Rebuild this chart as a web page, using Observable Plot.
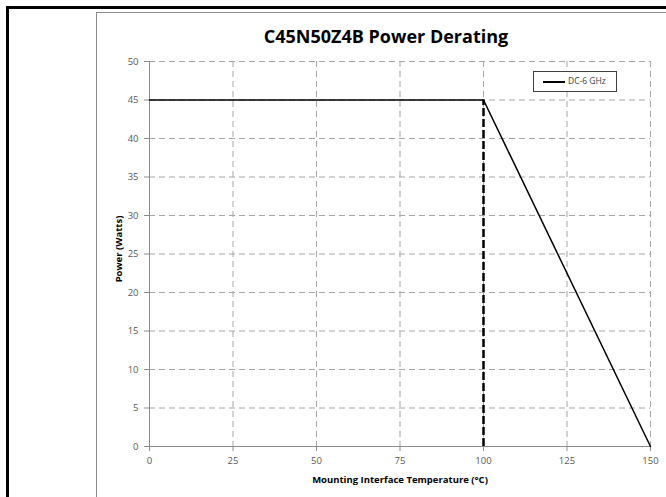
<!DOCTYPE html>
<html>
<head>
<meta charset="utf-8">
<script src="https://cdn.jsdelivr.net/npm/d3@7"></script>
<script src="https://cdn.jsdelivr.net/npm/@observablehq/plot@0.6"></script>
<style>
  html, body { margin: 0; padding: 0; background: #fff; }
  #wrap { position: relative; width: 666px; height: 497px; overflow: hidden; font-family: "Open Sans", "Liberation Sans", sans-serif; }
  #wrap svg { position: absolute; left: 0; top: 0; }
  .outer-top { position: absolute; left: 6px; top: 6px; width: 700px; height: 3px; background: #000; }
  .outer-left { position: absolute; left: 6px; top: 6px; width: 3px; height: 520px; background: #000; }
  .frame-top { position: absolute; left: 96px; top: 12px; width: 700px; height: 1px; background: #8a8a8a; }
  .frame-left { position: absolute; left: 96px; top: 12px; width: 1px; height: 520px; background: #8a8a8a; }
  #title { position: absolute; left: 186px; width: 400px; top: 24px; line-height: 25px; text-align: center; font-weight: bold; font-size: 18px; color: #000; }
  #legend { position: absolute; left: 533px; top: 71px; width: 84px; height: 21px; border: 1px solid #404040; background: #fff; box-sizing: border-box; font-size: 8.5px; color: #404040; }
  #legend .ln { position: absolute; left: 9px; top: 9px; width: 22px; height: 1.5px; background: #000; }
  #legend .tx { position: absolute; left: 34px; top: 3px; white-space: nowrap; }
</style>
</head>
<body>
<div id="wrap">
  <div class="outer-top"></div><div class="outer-left"></div>
  <div class="frame-top"></div><div class="frame-left"></div>
  <div id="title"></div>
  <div id="legend"><div class="ln"></div><div class="tx"></div></div>
</div>
<script>
const titleText = "C45N50Z4B Power Derating";
const seriesName = "DC-6 GHz";
const xLabel = "Mounting Interface Temperature (°C)";
const yLabel = "Power (Watts)";
const temperature = [0, 100, 150];
const power = [45, 45, 0];
const markerTemp = [100];
const markerPower = [45];
const xTicks = [0, 25, 50, 75, 100, 125, 150];
const yTicks = [0, 5, 10, 15, 20, 25, 30, 35, 40, 45, 50];

const data = temperature.map((t, i) => ({t, p: power[i]}));
const marker = markerTemp.map((t, i) => ({t, p: markerPower[i]}));

document.getElementById("title").textContent = titleText;
document.querySelector("#legend .tx").textContent = seriesName;

const gridColor = "#a6a6a6";
const chart = Plot.plot({
  width: 666,
  height: 497,
  marginLeft: 149,
  marginRight: 16,
  marginTop: 61,
  marginBottom: 51,
  style: { fontFamily: "Open Sans, Liberation Sans, sans-serif", fontSize: "9.5px", color: "#595959", background: "transparent", overflow: "visible" },
  x: { domain: [0, 150], ticks: xTicks },
  y: { domain: [0, 50], ticks: yTicks },
  marks: [
    Plot.gridX(xTicks.filter(d => d > 0), { stroke: gridColor, strokeOpacity: 1, strokeWidth: 1, strokeDasharray: "6,4" }),
    Plot.gridY(yTicks.filter(d => d > 0), { stroke: gridColor, strokeOpacity: 1, strokeWidth: 1, strokeDasharray: "6,4" }),
    Plot.ruleX([0], { stroke: "#8c8c8c" }),
    Plot.ruleY([0], { stroke: "#8c8c8c" }),
    Plot.axisX({ ticks: xTicks, tickSize: 5, tickPadding: 6, stroke: "#8c8c8c", label: null, fill: "#595959" }),
    Plot.axisY({ ticks: yTicks, tickSize: 5, tickPadding: 6, stroke: "#8c8c8c", label: null, fill: "#595959" }),
    Plot.text([xLabel], { frameAnchor: "bottom", dy: 36, fontWeight: "bold", fontSize: 9.5, fill: "#000" }),
    Plot.text([yLabel], { frameAnchor: "left", textAnchor: "middle", dx: -31, dy: -5, rotate: -90, fontWeight: "bold", fontSize: 9.5, fill: "#000" }),
    Plot.ruleX(marker, { x: "t", y1: 0, y2: "p", stroke: "#000", strokeWidth: 2.5, strokeDasharray: "8,3" }),
    Plot.line(data, { x: "t", y: "p", stroke: "#000", strokeWidth: 1.5 })
  ]
});
document.getElementById("wrap").insertBefore(chart, document.getElementById("title"));
</script>
</body>
</html>
